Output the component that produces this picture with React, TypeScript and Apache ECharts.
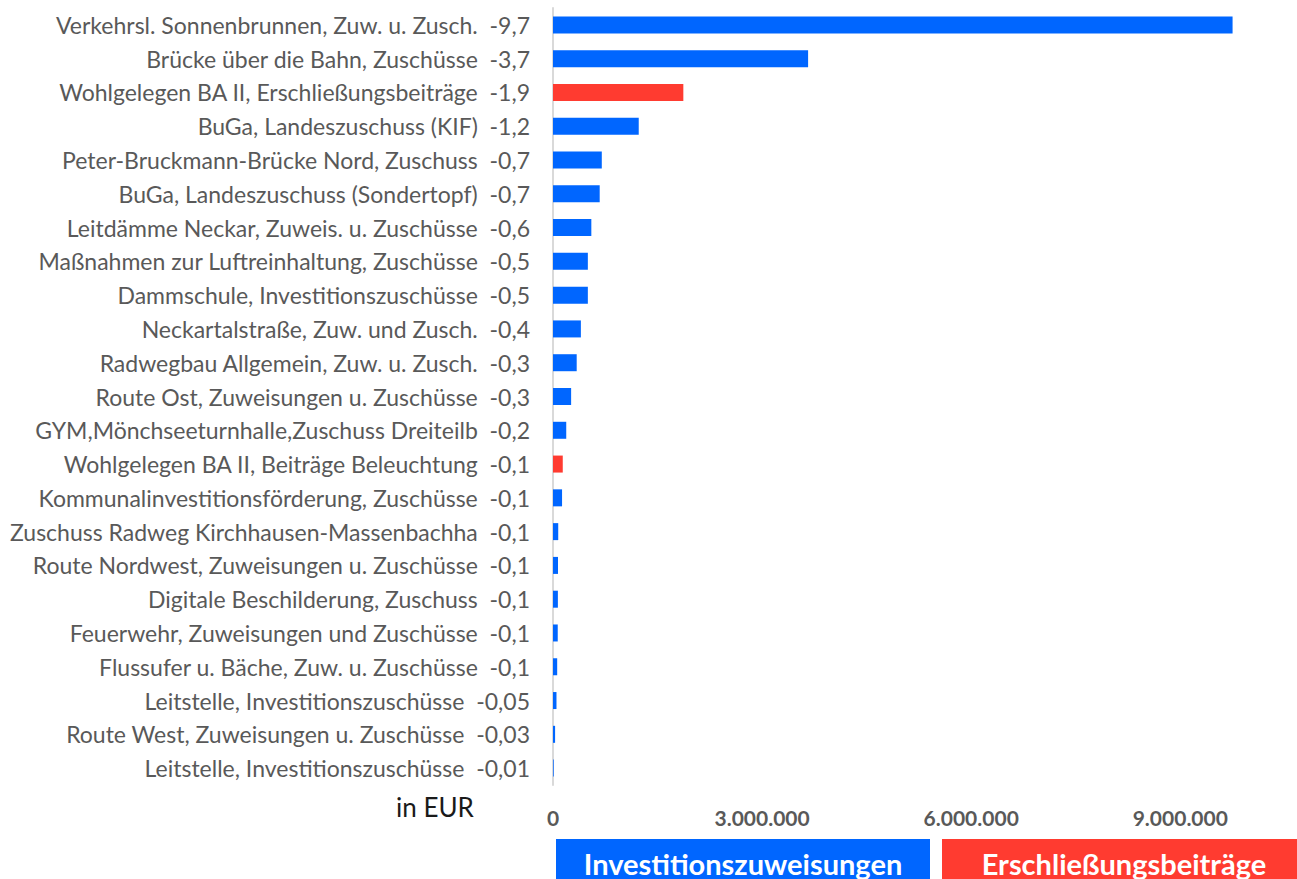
import React, { useEffect, useRef } from "react";
import * as echarts from "echarts";

const categories = [
  "Verkehrsl. Sonnenbrunnen, Zuw. u. Zusch.",
  "Brücke über die Bahn, Zuschüsse",
  "Wohlgelegen BA II, Erschließungsbeiträge",
  "BuGa, Landeszuschuss (KIF)",
  "Peter-Bruckmann-Brücke Nord, Zuschuss",
  "BuGa, Landeszuschuss (Sondertopf)",
  "Leitdämme Neckar, Zuweis. u. Zuschüsse",
  "Maßnahmen zur Luftreinhaltung, Zuschüsse",
  "Dammschule, Investitionszuschüsse",
  "Neckartalstraße, Zuw. und Zusch.",
  "Radwegbau Allgemein, Zuw. u. Zusch.",
  "Route Ost, Zuweisungen u. Zuschüsse",
  "GYM,Mönchseeturnhalle,Zuschuss Dreiteilb",
  "Wohlgelegen BA II, Beiträge Beleuchtung",
  "Kommunalinvestitionsförderung, Zuschüsse",
  "Zuschuss Radweg Kirchhausen-Massenbachha",
  "Route Nordwest, Zuweisungen u. Zuschüsse",
  "Digitale Beschilderung, Zuschuss",
  "Feuerwehr, Zuweisungen und Zuschüsse",
  "Flussufer u. Bäche, Zuw. u. Zuschüsse",
  "Leitstelle, Investitionszuschüsse",
  "Route West, Zuweisungen u. Zuschüsse",
  "Leitstelle, Investitionszuschüsse",
];

const valueLabels = [
  "-9,7", "-3,7", "-1,9", "-1,2", "-0,7", "-0,7", "-0,6", "-0,5", "-0,5", "-0,4",
  "-0,3", "-0,3", "-0,2", "-0,1", "-0,1", "-0,1", "-0,1", "-0,1", "-0,1", "-0,1",
  "-0,05", "-0,03", "-0,01",
];

const values = [
  9750000, 3660000, 1870000, 1230000, 700000, 670000, 550000, 500000, 500000, 400000,
  340000, 260000, 190000, 140000, 130000, 75000, 72000, 70000, 68000, 60000,
  50000, 30000, 10000,
];

// 0 = Investitionszuweisungen, 1 = Erschließungsbeiträge
const groups = [0, 0, 1, 0, 0, 0, 0, 0, 0, 0, 0, 0, 0, 1, 0, 0, 0, 0, 0, 0, 0, 0, 0];

const legendNames = ["Investitionszuweisungen", "Erschließungsbeiträge"];
const colors = ["#0066FF", "#FF3B30"];
const xTicks = [0, 3000000, 6000000, 9000000];

const FONT = "'Source Sans Pro', Lato, 'Noto Sans', sans-serif";

export default function App() {
  const ref = useRef<HTMLDivElement>(null);
  useEffect(() => {
    if (!ref.current) return;
    const chart = echarts.init(ref.current, null, { renderer: "svg" });
    const fmt = (v: number) => String(Math.round(v)).replace(/\B(?=(\d{3})+(?!\d))/g, ".");
    chart.setOption({
      animation: false,
      backgroundColor: "#ffffff",
      grid: { left: 553, right: 47, top: 8, bottom: 94, containLabel: false },
      xAxis: {
        type: "value",
        min: 0,
        max: 10000000,
        interval: 3000000,
        splitLine: { show: false },
        axisLine: { show: false },
        axisTick: { show: false },
        axisLabel: {
          showMaxLabel: false,
          margin: 22,
          fontFamily: FONT,
          fontSize: 21,
          fontWeight: "bold",
          color: "#595959",
          formatter: (v: number) => (xTicks.includes(v) ? fmt(v) : ""),
        },
      },
      yAxis: {
        type: "category",
        inverse: true,
        data: categories,
        axisLine: { show: true, lineStyle: { color: "#d9d9d9", width: 2 } },
        axisTick: { show: false },
        axisLabel: {
          margin: 23,
          fontFamily: FONT,
          fontSize: 23,
          color: "#595959",
          formatter: (v: string, i: number) => `${categories[i]}  ${valueLabels[i]}`,
        },
      },
      series: [
        {
          type: "bar",
          barWidth: 17,
          data: values.map((v, i) => ({
            value: v,
            itemStyle: { color: colors[groups[i]] },
          })),
        },
      ],
      graphic: [
        {
          type: "text",
          left: 396,
          top: 794,
          style: { text: "in EUR", fontFamily: FONT, fontSize: 26, fill: "#1a1a1a" },
        },
        {
          type: "rect",
          shape: { x: 556, y: 839, width: 374, height: 50 },
          style: { fill: colors[0] },
        },
        {
          type: "text",
          x: 743,
          y: 863,
          style: {
            text: legendNames[0],
            fontFamily: FONT,
            fontSize: 29,
            fontWeight: "bold",
            fill: "#ffffff",
            align: "center",
            verticalAlign: "middle",
          },
        },
        {
          type: "rect",
          shape: { x: 942, y: 839, width: 360, height: 50 },
          style: { fill: colors[1] },
        },
        {
          type: "text",
          x: 1124,
          y: 863,
          style: {
            text: legendNames[1],
            fontFamily: FONT,
            fontSize: 29,
            fontWeight: "bold",
            fill: "#ffffff",
            align: "center",
            verticalAlign: "middle",
          },
        },
      ],
    });
    return () => chart.dispose();
  }, []);
  return (
    <div
      ref={ref}
      style={{ position: "fixed", left: 0, top: 0, width: 1297, height: 879, background: "#fff" }}
    />
  );
}
